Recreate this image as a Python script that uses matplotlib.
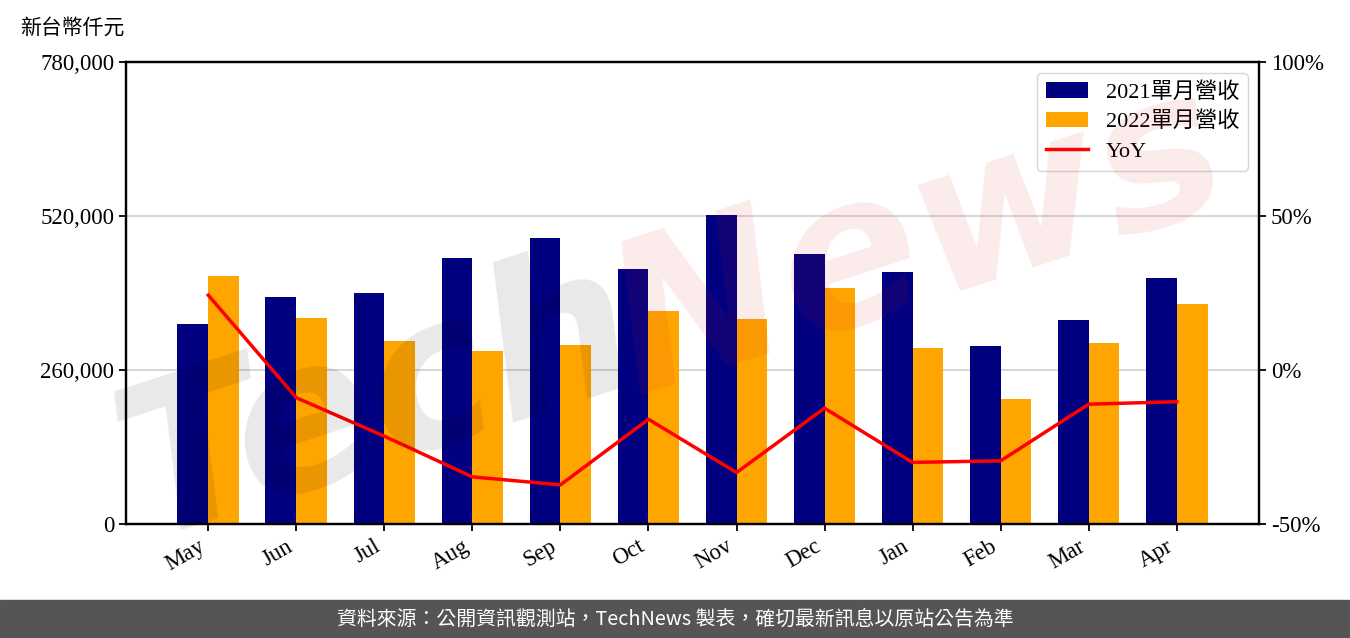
import matplotlib
matplotlib.use('Agg')
import matplotlib.pyplot as plt
from matplotlib.patches import Rectangle
from matplotlib.ticker import FuncFormatter
import numpy as np

plt.rcParams['font.family'] = ['Liberation Serif', 'Noto Sans CJK TC', 'DejaVu Sans']

# monthly revenue (thousand NTD)
months = ['May', 'Jun', 'Jul', 'Aug', 'Sep', 'Oct', 'Nov', 'Dec', 'Jan', 'Feb', 'Mar', 'Apr']
rev_2021 = [337700, 383200, 390000, 449100, 482900, 430500, 521700, 455800, 425500, 300500, 344400, 415300]
rev_2022 = [418700, 347800, 309000, 292100, 302200, 359600, 346100, 398400, 297100, 211000, 305600, 371400]
# year over year change, %
yoy = [24.3, -9.0, -21.5, -34.7, -37.3, -16.0, -33.3, -12.4, -30.0, -29.5, -11.1, -10.3]

fig = plt.figure(figsize=(13.5, 6.38), dpi=100)
ax = fig.add_axes([0.0933, 0.1787, 0.8393, 0.7241])
ax2 = ax.twinx()

x = np.arange(len(months))
w = 0.35
b1 = ax.bar(x - w / 2, rev_2021, w, color='#000080', label='2021單月營收', zorder=2)
b2 = ax.bar(x + w / 2, rev_2022, w, color='#FFA500', label='2022單月營收', zorder=2)
ln, = ax2.plot(x, yoy, color='red', lw=2.5, label='YoY')

ax.set_ylim(0, 780000)
ax.set_yticks([0, 260000, 520000, 780000])
ax.yaxis.set_major_formatter(FuncFormatter(lambda v, p: f'{int(v):,}'))
ax.grid(axis='y', color='#d3d3d3', lw=1.3, zorder=0)
ax.set_xticks(x)
ax.set_xticklabels(months, rotation=30, ha='right')

ax2.set_ylim(-50, 100)
ax2.set_yticks([-50, 0, 50, 100])
ax2.yaxis.set_major_formatter(FuncFormatter(lambda v, p: f'{int(v)}%'))

for a in (ax, ax2):
    a.tick_params(labelsize=16.5, width=1.3, length=5)
    for s in a.spines.values():
        s.set_linewidth(1.6)

ax.legend([b1, b2, ln], ['2021單月營收', '2022單月營收', 'YoY'], loc='upper right',
          fontsize=16, borderaxespad=0.5, handlelength=1.9, labelspacing=0.4)

# watermark
fig.text(0.28, 0.37, 'Tech', fontsize=150, fontstyle='italic', fontweight='bold',
         family='DejaVu Sans', color='black', alpha=0.09, rotation=18,
         ha='center', va='center')
fig.text(0.68, 0.62, 'News', fontsize=150, fontstyle='italic', fontweight='bold',
         family='DejaVu Sans', color=(0.85, 0.1, 0.1), alpha=0.09, rotation=18,
         ha='center', va='center')

fig.text(0.015, 0.955, '新台幣仟元', fontsize=15, ha='left', va='center')

fig.patches.append(Rectangle((0, 0), 1, 38 / 638, transform=fig.transFigure,
                             color='#555555', zorder=0))
fig.text(0.5, 19 / 638, '資料來源：公開資訊觀測站，TechNews 製表，確切最新訊息以原站公告為準',
         fontsize=14.3, color='white', ha='center', va='center',
         family=['Noto Sans CJK TC', 'DejaVu Sans'])

fig.savefig('out.png', dpi=100)
